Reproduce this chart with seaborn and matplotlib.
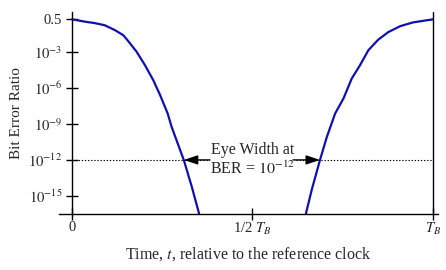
import numpy as np
import pandas as pd
import matplotlib
matplotlib.use("Agg")
import matplotlib.pyplot as plt
from matplotlib.ticker import NullLocator
import seaborn as sns

# ---- data (t in units of T_B, BER) ----
t_left = [0.0, 0.036, 0.064, 0.091, 0.119, 0.142, 0.156, 0.179, 0.202,
          0.225, 0.244, 0.265, 0.276, 0.310, 0.332, 0.352]
ber_left = [0.5, 0.32, 0.24, 0.16, 0.063, 0.024, 7.6e-3, 1e-3, 7.8e-5,
            4.4e-6, 2.5e-7, 7.4e-9, 5.6e-10, 9.3e-13, 5.6e-15, 3.4e-17]
t_right = [0.648, 0.664, 0.687, 0.706, 0.729, 0.752, 0.775, 0.798, 0.821,
           0.848, 0.876, 0.909, 0.945, 1.0]
ber_right = [3.4e-17, 3.2e-15, 1e-12, 8.3e-11, 7.4e-9, 1.3e-7, 6e-6, 7.8e-5,
             1.35e-3, 0.01, 0.043, 0.135, 0.28, 0.5]

y_ticks = [0.5, 1e-3, 1e-6, 1e-9, 1e-12, 1e-15]
y_ticklabels = ["0.5", r"$10^{-3}$", r"$10^{-6}$", r"$10^{-9}$", r"$10^{-12}$", r"$10^{-15}$"]
x_ticks = [0, 0.5, 1]
x_ticklabels = ["0", r"1/2 $T_B$", r"$T_B$"]
target_ber = 1e-12

sns.set_style("white")
plt.rcParams["font.family"] = ["Liberation Serif", "DejaVu Serif"]
plt.rcParams["mathtext.fontset"] = "stix"

fig = plt.figure(figsize=(4.46, 2.70), dpi=100)
ax = fig.add_axes([59 / 446, 56 / 270, 379 / 446, 202 / 270])

line_color = "#1010b0"
sns.lineplot(x=t_left, y=ber_left, ax=ax, color=line_color, lw=1.6,
             sort=False, estimator=None)
sns.lineplot(x=t_right, y=ber_right, ax=ax, color=line_color, lw=1.6,
             sort=False, estimator=None)

ax.set_yscale("log")
ax.set_xlim(-13 / 361, 366 / 361)
ax.set_ylim(10 ** -16.5, 10 ** 0.31)

for s in ["top", "right"]:
    ax.spines[s].set_visible(False)
ax.spines["left"].set_position(("data", 0))
for s in ["left", "bottom"]:
    ax.spines[s].set_color("black")
    ax.spines[s].set_linewidth(1.0)
ax.axvline(1.0, color="black", lw=1.0)

ax.set_yticks(y_ticks)
ax.set_yticklabels(y_ticklabels)
ax.yaxis.set_minor_locator(NullLocator())
ax.set_xticks(x_ticks)
ax.set_xticklabels(x_ticklabels)
ax.tick_params(axis="y", direction="inout", length=8, width=1, color="black",
               labelsize=10.5, pad=3, left=True)
ax.tick_params(axis="x", direction="inout", length=8, width=1, color="black",
               labelsize=10.5, pad=1, bottom=True)

# dotted BER target line
ax.plot([0, 1], [target_ber, target_ber], ls=(0, (1.2, 1.6)), color="black", lw=0.8)

# crossing points
log_l = np.log10(ber_left)
log_r = np.log10(ber_right)
t_cl = np.interp(np.log10(target_ber), log_l[::-1], np.array(t_left)[::-1])
t_cr = np.interp(np.log10(target_ber), log_r, np.array(t_right))

ax.text(0.5, target_ber, "Eye Width at\nBER = $10^{-12}$", ha="center", va="center",
        fontsize=11.5, linespacing=1.2,
        bbox=dict(facecolor="white", edgecolor="none", pad=0.3))
arrow = dict(arrowstyle="-|>,head_length=0.6,head_width=0.2", color="black", lw=1,
             mutation_scale=14, shrinkA=0, shrinkB=0)
ax.annotate("", xy=(t_cl, target_ber), xytext=(0.382, target_ber), arrowprops=arrow)
ax.annotate("", xy=(t_cr, target_ber), xytext=(0.612, target_ber), arrowprops=arrow)

ax.set_xlabel("Time, $t$, relative to the reference clock", fontsize=11.5, labelpad=6)
ax.set_ylabel("Bit Error Ratio", fontsize=11)
ax.yaxis.set_label_coords(-0.095, 0.5)

fig.savefig("out.png", dpi=100)
